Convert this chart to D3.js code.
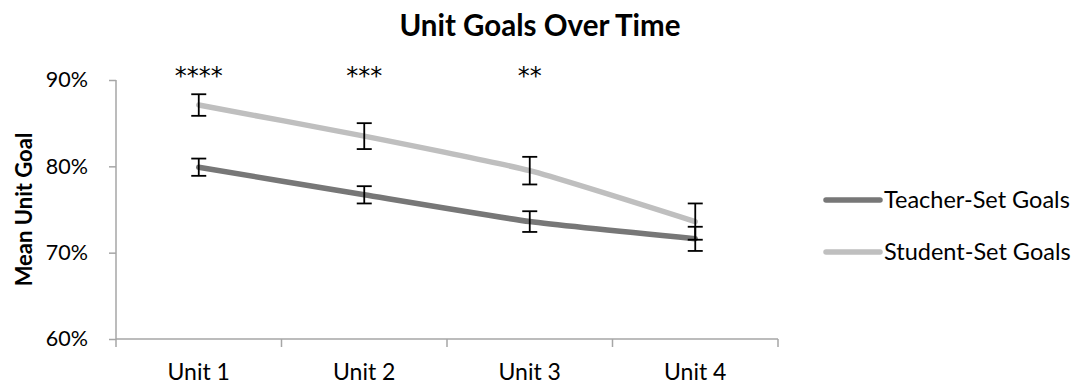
<!DOCTYPE html>
<html>
<head>
<meta charset="utf-8">
<script src="https://cdn.jsdelivr.net/npm/d3@7"></script>
<style>
  html, body { margin: 0; padding: 0; background: #fff; }
  svg { display: block; font-family: Lato, "Open Sans", sans-serif; }
</style>
</head>
<body>
<svg id="chart" width="1083" height="385"></svg>
<script>
// Unit goal means (fractions) and their error margins
const units = ["Unit 1", "Unit 2", "Unit 3", "Unit 4"];
const teacherGoals = [0.799, 0.767, 0.736, 0.716];
const teacherErr = [0.010, 0.010, 0.012, 0.014];
const studentGoals = [0.871, 0.835, 0.795, 0.736];
const studentErr = [0.0125, 0.015, 0.016, 0.021];
const significance = ["****", "***", "**", ""];
const yTicks = [0.6, 0.7, 0.8, 0.9];

const series = [
  { name: "Teacher-Set Goals", values: teacherGoals, err: teacherErr, color: "#777777" },
  { name: "Student-Set Goals", values: studentGoals, err: studentErr, color: "#BFBFBF" }
];

const svg = d3.select("#chart");
const plotLeft = 116, plotRight = 778, plotTop = 80, plotBottom = 339;
const axisColor = "#A6A6A6";
const font = "Lato, 'Open Sans', sans-serif";

const x = d3.scaleBand().domain(units).range([plotLeft, plotRight]);
const y = d3.scaleLinear().domain([0.6, 0.9]).range([plotBottom, plotTop]);
const cx = d => x(d) + x.bandwidth() / 2;

// Title
svg.append("text")
  .attr("x", 540).attr("y", 36)
  .attr("text-anchor", "middle")
  .attr("font-size", 29.5).attr("font-weight", "bold")
  .attr("fill", "#000")
  .text("Unit Goals Over Time");

// Y axis
const yAxis = svg.append("g")
  .attr("transform", `translate(${plotLeft},0)`)
  .call(d3.axisLeft(y).tickValues(yTicks).tickFormat(d3.format(".0%")).tickSize(7).tickPadding(21));
yAxis.selectAll("path, line").attr("stroke", axisColor).attr("stroke-width", 1.5);
yAxis.select(".domain").attr("d", `M0,${plotTop}V${plotBottom}`);
yAxis.selectAll("text").attr("font-size", 21.5).attr("fill", "#000").attr("font-family", font);

// X axis
const xAxis = svg.append("g")
  .attr("transform", `translate(0,${plotBottom})`)
  .call(d3.axisBottom(x).tickSize(0).tickPadding(0));
xAxis.selectAll(".tick line").remove();
xAxis.select(".domain").attr("stroke", axisColor).attr("stroke-width", 1.5)
  .attr("d", `M${plotLeft},0H${plotRight}`);
xAxis.selectAll("text")
  .attr("font-size", 23).attr("fill", "#000").attr("font-family", font)
  .attr("dy", null).attr("y", 41);
// Boundary ticks between categories
const bounds = units.map(u => x(u)).concat([x(units[units.length - 1]) + x.bandwidth()]);
xAxis.selectAll(".bound").data(bounds).enter().append("line")
  .attr("x1", d => d).attr("x2", d => d)
  .attr("y1", 0).attr("y2", 8)
  .attr("stroke", axisColor).attr("stroke-width", 1.5);

// Y axis title
svg.append("text")
  .attr("transform", `translate(32,${(plotTop + plotBottom) / 2}) rotate(-90)`)
  .attr("text-anchor", "middle")
  .attr("font-size", 22).attr("font-weight", "bold")
  .attr("fill", "#000")
  .text("Mean Unit Goal");

// Lines
const line = d3.line()
  .x((d, i) => cx(units[i]))
  .y(d => y(d))
  .curve(d3.curveCardinal.tension(0.5));

series.slice().reverse().forEach(s => {
  svg.append("path")
    .datum(s.values)
    .attr("d", line)
    .attr("fill", "none")
    .attr("stroke", s.color)
    .attr("stroke-width", 5.5)
    .attr("stroke-linecap", "round");
});

// Error bars
series.forEach(s => {
  const g = svg.append("g").attr("stroke", "#000").attr("stroke-width", 1.8);
  s.values.forEach((v, i) => {
    const px = cx(units[i]);
    const y1 = y(v + s.err[i]), y2 = y(v - s.err[i]);
    g.append("line").attr("x1", px).attr("x2", px).attr("y1", y1).attr("y2", y2);
    g.append("line").attr("x1", px - 7.5).attr("x2", px + 7.5).attr("y1", y1).attr("y2", y1);
    g.append("line").attr("x1", px - 7.5).attr("x2", px + 7.5).attr("y1", y2).attr("y2", y2);
  });
});

// Significance markers
svg.selectAll(".sig").data(significance).enter().append("text")
  .attr("x", (d, i) => cx(units[i]))
  .attr("y", 84)
  .attr("text-anchor", "middle")
  .attr("font-family", "'DejaVu Sans', sans-serif")
  .attr("font-size", 24)
  .attr("fill", "#000")
  .text(d => d);

// Legend
const legend = svg.append("g");
series.forEach((s, i) => {
  const ly = 200 + i * 52;
  legend.append("line")
    .attr("x1", 826).attr("x2", 880).attr("y1", ly).attr("y2", ly)
    .attr("stroke", s.color).attr("stroke-width", 5.5).attr("stroke-linecap", "round");
  legend.append("text")
    .attr("x", 884).attr("y", ly + 8)
    .attr("font-size", 23.5).attr("fill", "#000")
    .text(s.name);
});
</script>
</body>
</html>
